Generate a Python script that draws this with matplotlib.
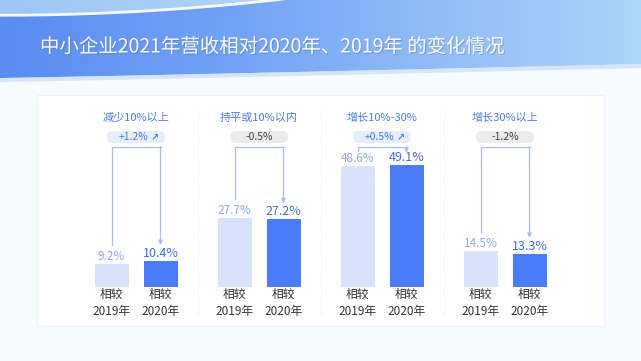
import numpy as np
import matplotlib
matplotlib.use("Agg")
import matplotlib.pyplot as plt
from matplotlib.patches import FancyBboxPatch, Polygon, Rectangle
from matplotlib.colors import LinearSegmentedColormap
import matplotlib.patheffects as pe

plt.rcParams['font.family'] = ['Noto Sans CJK SC', 'DejaVu Sans']

# ---- data ----
title = '中小企业2021年营收相对2020年、2019年 的变化情况'
categories = ['减少10%以上', '持平或10%以内', '增长10%-30%', '增长30%以上']
vs2019 = [9.2, 27.7, 48.6, 14.5]
vs2020 = [10.4, 27.2, 49.1, 13.3]
changes = ['+1.2%', '-0.5%', '+0.5%', '-1.2%']
bar_labels = ['相较\n2019年', '相较\n2020年']

W, H = 641, 361
fig = plt.figure(figsize=(W / 100, H / 100), dpi=100)
fig.patch.set_facecolor('#f5fbfe')

# ---- background / header in pixel coordinates ----
bg = fig.add_axes([0, 0, 1, 1])
bg.set_xlim(0, W)
bg.set_ylim(H, 0)
bg.axis('off')

xs = np.linspace(0, W, 300)
top_edge = np.maximum(15 - 17 * (xs / 290) ** 2.0, -2)
bot_edge = 78 - 14 * (xs / W) ** 1.1

grad = np.linspace(0, 1, 256).reshape(1, -1)

# light top region (above the band)
cm_top = LinearSegmentedColormap.from_list('t', ['#9cc6f4', '#b6d8f9', '#d3e9fc'])
im = bg.imshow(grad, cmap=cm_top, extent=[0, W, 20, -2], aspect='auto', zorder=0)
top_pts = [(0, -3), (W, -3)] + list(zip(xs[::-1], top_edge[::-1] + 1))
top_clip = Polygon(top_pts, closed=True, transform=bg.transData, facecolor='none', edgecolor='none')
bg.add_patch(top_clip)
im.set_clip_path(top_clip)

# main band
band_pts = list(zip(xs, top_edge)) + list(zip(xs[::-1], bot_edge[::-1]))
band = Polygon(band_pts, closed=True, transform=bg.transData, facecolor='none', edgecolor='none')
bg.add_patch(band)
cm_band = LinearSegmentedColormap.from_list('b', ['#5a8cf2', '#70a0f5', '#90bbf7', '#aed4f9'])
im2 = bg.imshow(grad, cmap=cm_band, extent=[0, W, 90, -2], aspect='auto', zorder=1)
im2.set_clip_path(band)

# white curve on top edge of the band
mask = xs < 290
bg.plot(xs[mask], top_edge[mask] + 0.3, color='white', lw=2.0, alpha=0.95, zorder=2,
        solid_capstyle='round')

# light strip under the band
strip_pts = list(zip(xs, bot_edge)) + list(zip(xs[::-1], bot_edge[::-1] + 4))
bg.add_patch(Polygon(strip_pts, closed=True, facecolor='#cfe1fa', edgecolor='none', alpha=0.8, zorder=1))

# title
bg.text(40, 47, title, color='white', fontsize=14, va='center', ha='left', zorder=3,
        path_effects=[pe.withSimplePatchShadow(offset=(0.8, -0.8), shadow_rgbFace='#3d67c4', alpha=0.35)])

# white panel
bg.add_patch(Rectangle((37, 95), 567, 231, facecolor='white', edgecolor='#edf2f7', lw=0.8, zorder=1))

# ---- data axes ----
PPU = 2.49          # pixels per percent
base_px = 287
ytop = 76
left_px, right_px = 37, 604
ax = fig.add_axes([left_px / W, 1 - base_px / H, (right_px - left_px) / W, ytop * PPU / H])
ax.set_facecolor('none')
gsp = 123.0
x0 = 136.0
ax.set_xlim((left_px - x0) / gsp, (right_px - x0) / gsp)
ax.set_ylim(0, ytop)
ax.axis('off')

idx = np.arange(len(categories))
off = 24.5 / gsp
bw = 34 / gsp
c19, c20 = '#d8e2fb', '#4a7bf8'
ax.bar(idx - off, vs2019, width=bw, color=c19, zorder=2)
ax.bar(idx + off, vs2020, width=bw, color=c20, zorder=2)

py = 1 / PPU  # data units per pixel in y
line_c = '#a7bcf1'
hy = (base_px - 147) * py
pill_cy = (base_px - 137) * py
cat_y = (base_px - 118) * py
for i in idx:
    a, b = vs2019[i], vs2020[i]
    # value labels
    ax.text(i - off, a + 1 * py, f'{a}%', ha='center', va='bottom', color='#90a7ee', fontsize=8.5)
    ax.text(i + off, b + 1 * py, f'{b}%', ha='center', va='bottom', color='#3d6cf0', fontsize=9,
            fontweight='medium')
    # x labels
    for k, xx in enumerate([i - off, i + off]):
        ax.text(xx, -1 * py, bar_labels[k], ha='center', va='top', color='#333333', fontsize=8.5,
                linespacing=1.35)
    # category label
    ax.text(i, cat_y, categories[i], ha='center', va='center', color='#4a7cf0', fontsize=8)
    # connector
    l_end = min(a + 19 * py, hy - 4 * py)
    r_end = min(b + 16 * py, hy - 6 * py)
    ax.plot([i - off, i - off, i + off], [l_end, hy, hy], color=line_c, lw=0.9, zorder=1)
    ax.annotate('', xy=(i + off, r_end), xytext=(i + off, hy),
                arrowprops=dict(arrowstyle='-|>,head_length=0.25,head_width=0.12', color=line_c,
                                lw=0.9, shrinkA=0, shrinkB=0))
    # pill
    pos = changes[i].startswith('+')
    pw, ph = 58 / gsp, 12 * py
    pill = FancyBboxPatch((i - pw / 2, pill_cy - ph / 2), pw, ph,
                          boxstyle=f'round,pad=0,rounding_size={6 / gsp}',
                          mutation_aspect=gsp * py, facecolor='#e6eefc' if pos else '#ebebeb',
                          edgecolor='none', zorder=3, clip_on=False)
    ax.add_patch(pill)
    if pos:
        ax.text(i - 3 / gsp, pill_cy, changes[i], ha='center', va='center', color='#4a7cf0',
                fontsize=7.5, zorder=4)
        ax.text(i + 19 / gsp, pill_cy, '↗', ha='center', va='center', color='#4a7cf0',
                fontsize=7, fontweight='bold', zorder=4, family='DejaVu Sans')
    else:
        ax.text(i, pill_cy, changes[i], ha='center', va='center', color='#444444',
                fontsize=7.5, zorder=4)
    # divider
    if i < len(idx) - 1:
        ax.plot([i + 0.5, i + 0.5], [-28 * py, (base_px - 110) * py], color='#e4e8ee', lw=0.7,
                ls=(0, (1, 1.5)), zorder=0, clip_on=False)

fig.savefig('out.png', dpi=100, facecolor=fig.get_facecolor())
